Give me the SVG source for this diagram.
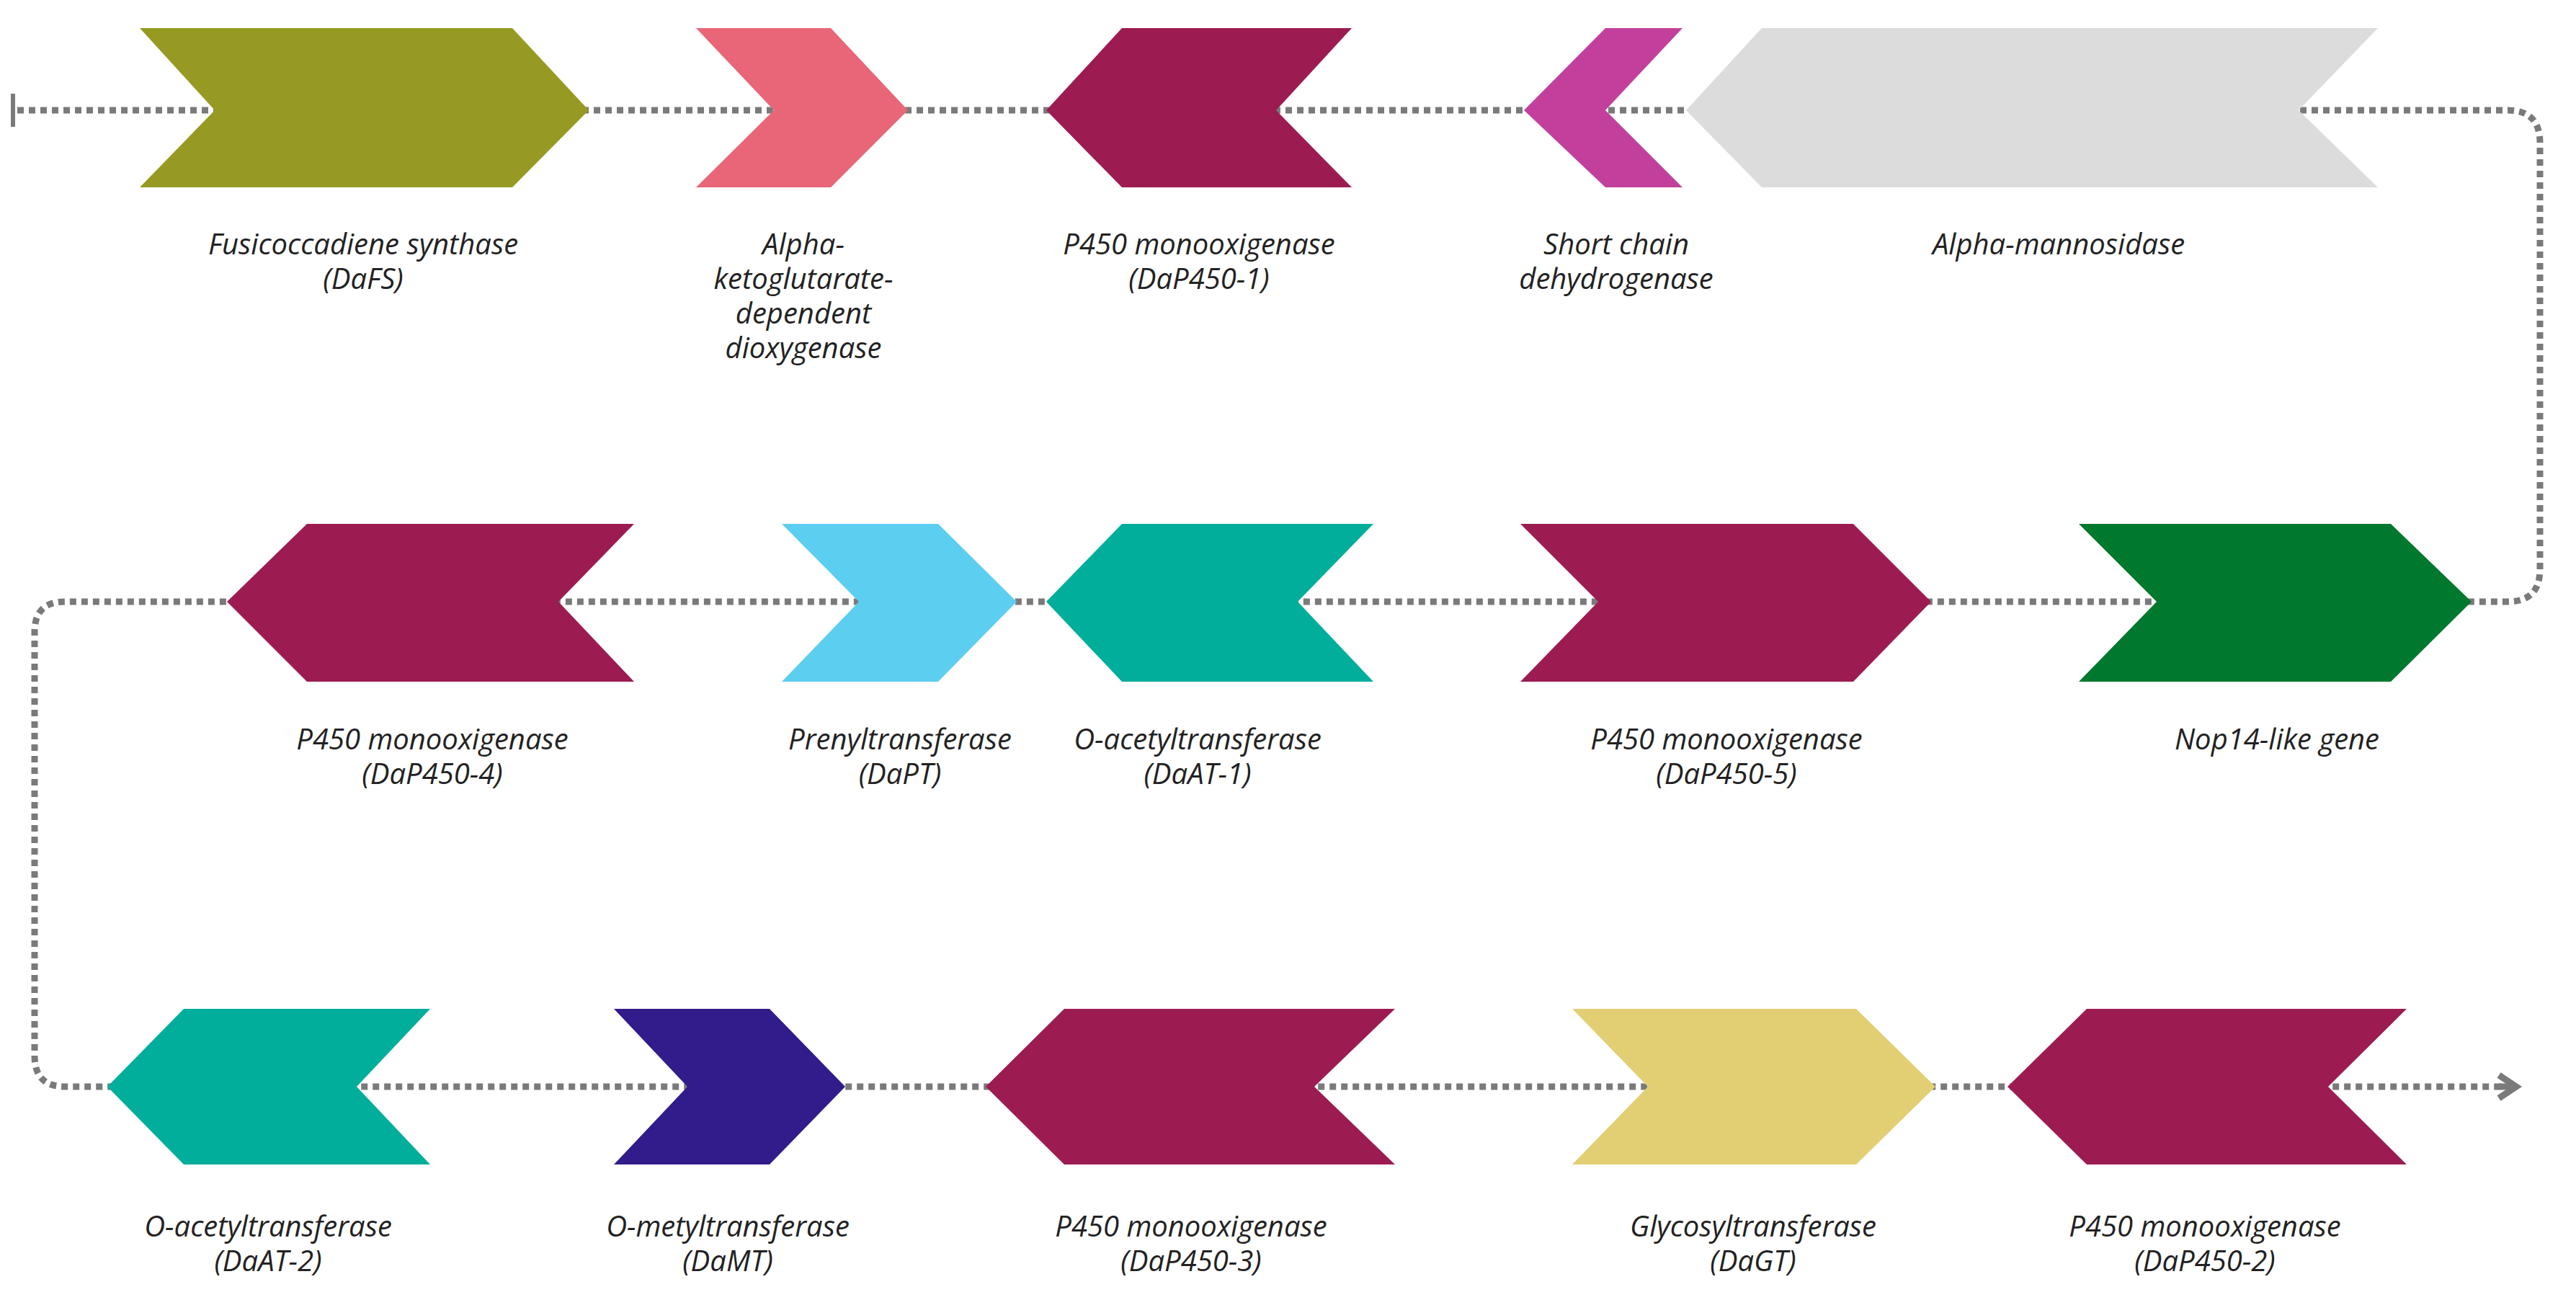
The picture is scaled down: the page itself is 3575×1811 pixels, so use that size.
<svg xmlns="http://www.w3.org/2000/svg" width="3575" height="1811" viewBox="0 0 3575 1811">
<style>
.l{font-family:"Open Sans","Liberation Sans",sans-serif;font-style:italic;font-size:40px;fill:#222;text-anchor:middle}
.c{fill:none;stroke:#7a7a7a;stroke-width:9;stroke-dasharray:9 7}
</style>
<defs><marker id="ar" markerWidth="10" markerHeight="10" refX="7" refY="5" orient="auto" markerUnits="userSpaceOnUse" viewBox="0 0 10 10"><path d="M1 1 L7 5 L1 9" fill="none" stroke="#7a7a7a" stroke-width="2"/></marker></defs>
<rect width="3575" height="1811" fill="#fff"/>
<g id="connectors">
<path class="c" d="M24 153 H3480 Q3525 153 3525 198 V790 Q3525 835 3480 835 H90 Q48 835 48 877 V1465 Q48 1508 90 1508 H3470"/>
<path d="M3468 1508 H3490" stroke="#7a7a7a" stroke-width="9" fill="none"/>
<path d="M3468 1492 L3492 1508 L3468 1524" stroke="#7a7a7a" stroke-width="9" fill="none"/>
<line x1="18" y1="130" x2="18" y2="176" stroke="#7a7a7a" stroke-width="6"/>
</g>
<g id="DaFS"><polygon fill="#969a22" points="194,39 711,39 817,153 711,260 194,260 298,153"/><text class="l" x="504" y="353">Fusicoccadiene synthase<tspan x="504" dy="48">(DaFS)</tspan></text></g>
<g id="AKGD"><polygon fill="#e86677" points="966,39 1153,39 1260,153 1153,260 966,260 1074,153"/><text class="l" x="1115" y="353">Alpha-<tspan x="1115" dy="48">ketoglutarate-</tspan><tspan x="1115" dy="48">dependent</tspan><tspan x="1115" dy="48">dioxygenase</tspan></text></g>
<g id="DaP450-1"><polygon fill="#9c1c52" points="1452,153 1557,39 1876,39 1771,153 1876,260 1557,260"/><text class="l" x="1664" y="353">P450 monooxigenase<tspan x="1664" dy="48">(DaP450-1)</tspan></text></g>
<g id="SCD"><polygon fill="#c2409c" points="2115,153 2228,39 2335,39 2228,153 2335,260 2228,260"/><text class="l" x="2243" y="353">Short chain<tspan x="2243" dy="48">dehydrogenase</tspan></text></g>
<g id="AMan"><polygon fill="#dcdcdc" points="2340,153 2445,39 3300,39 3190,153 3300,260 2445,260"/><text class="l" x="2857" y="353">Alpha-mannosidase</text></g>
<g id="DaP450-4"><polygon fill="#9c1c52" points="315,835 426,727 880,727 775,835 880,946 426,946"/><text class="l" x="600" y="1040">P450 monooxigenase<tspan x="600" dy="48">(DaP450-4)</tspan></text></g>
<g id="DaPT"><polygon fill="#5ccef0" points="1085,727 1302,727 1411,835 1302,946 1085,946 1192,835"/><text class="l" x="1249" y="1040">Prenyltransferase<tspan x="1249" dy="48">(DaPT)</tspan></text></g>
<g id="DaAT-1"><polygon fill="#00ae9b" points="1452,835 1557,727 1906,727 1801,835 1906,946 1557,946"/><text class="l" x="1662" y="1040">O-acetyltransferase<tspan x="1662" dy="48">(DaAT-1)</tspan></text></g>
<g id="DaP450-5"><polygon fill="#9c1c52" points="2110,727 2572,727 2680,835 2572,946 2110,946 2218,835"/><text class="l" x="2396" y="1040">P450 monooxigenase<tspan x="2396" dy="48">(DaP450-5)</tspan></text></g>
<g id="Nop14"><polygon fill="#00782e" points="2885,727 3318,727 3430,835 3318,946 2885,946 2993,835"/><text class="l" x="3160" y="1040">Nop14-like gene</text></g>
<g id="DaAT-2"><polygon fill="#00ae9b" points="149,1508 255,1400 597,1400 495,1508 597,1616 255,1616"/><text class="l" x="372" y="1716">O-acetyltransferase<tspan x="372" dy="48">(DaAT-2)</tspan></text></g>
<g id="DaMT"><polygon fill="#321b8a" points="852,1400 1068,1400 1173,1508 1068,1616 852,1616 954,1508"/><text class="l" x="1010" y="1716">O-metyltransferase<tspan x="1010" dy="48">(DaMT)</tspan></text></g>
<g id="DaP450-3"><polygon fill="#9c1c52" points="1368,1508 1477,1400 1936,1400 1824,1508 1936,1616 1477,1616"/><text class="l" x="1653" y="1716">P450 monooxigenase<tspan x="1653" dy="48">(DaP450-3)</tspan></text></g>
<g id="DaGT"><polygon fill="#e2cf73" points="2182,1400 2576,1400 2686,1508 2576,1616 2182,1616 2287,1508"/><text class="l" x="2433" y="1716">Glycosyltransferase<tspan x="2433" dy="48">(DaGT)</tspan></text></g>
<g id="DaP450-2"><polygon fill="#9c1c52" points="2786,1508 2896,1400 3340,1400 3231,1508 3340,1616 2896,1616"/><text class="l" x="3060" y="1716">P450 monooxigenase<tspan x="3060" dy="48">(DaP450-2)</tspan></text></g>
</svg>
